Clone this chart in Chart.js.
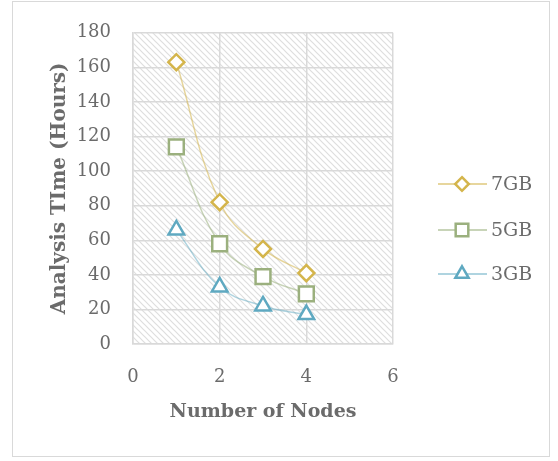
<!DOCTYPE html>
<html>
<head>
<meta charset="utf-8">
<script src="https://cdn.jsdelivr.net/npm/chart.js"></script>
<style>
  body { margin: 0; background: #fff; }
  #wrap { width: 558px; height: 461px; }
</style>
</head>
<body>
<div id="wrap"><canvas id="myChart" width="558" height="461"></canvas></div>
<script>
// data
var nodes = [1, 2, 3, 4];
var time7GB = [163, 82, 55, 41];
var time5GB = [114, 58, 39, 29];
var time3GB = [66, 33, 22, 17];
var xTicks = [0, 2, 4, 6];

var FONT = "'DejaVu Serif', serif";
var TEXT = '#6b6b6b';
var GRID = '#d9d9d9';

function toPoints(ys) {
    return nodes.map(function (x, i) { return { x: x, y: ys[i] }; });
}

// diagonal hatch for the plot area
function makeHatch(ctx) {
    var c = document.createElement('canvas');
    c.width = 6; c.height = 6;
    var p = c.getContext('2d');
    p.strokeStyle = '#dedede';
    p.lineWidth = 1.2;
    p.beginPath();
    p.moveTo(-1, -1); p.lineTo(7, 7);
    p.moveTo(-1, 5); p.lineTo(1, 7);
    p.moveTo(5, -1); p.lineTo(7, 1);
    p.stroke();
    return ctx.createPattern(c, 'repeat');
}

function marker(ctx, style, x, y, r, color, bw) {
    ctx.save();
    ctx.beginPath();
    if (style === 'rectRot') {
        ctx.moveTo(x, y - r); ctx.lineTo(x + r, y); ctx.lineTo(x, y + r); ctx.lineTo(x - r, y);
    } else if (style === 'rect') {
        var s = r * Math.SQRT1_2;
        ctx.rect(x - s, y - s, 2 * s, 2 * s);
    } else {
        ctx.moveTo(x, y - r);
        ctx.lineTo(x + r * Math.cos(Math.PI / 6), y + r * 0.5);
        ctx.lineTo(x - r * Math.cos(Math.PI / 6), y + r * 0.5);
    }
    ctx.closePath();
    ctx.fillStyle = '#fff';
    ctx.fill();
    ctx.lineWidth = bw;
    ctx.strokeStyle = color;
    ctx.stroke();
    ctx.restore();
}

var decor = {
    id: 'decor',
    beforeDraw: function (chart) {
        var ctx = chart.ctx, a = chart.chartArea;
        ctx.save();
        ctx.fillStyle = '#fff';
        ctx.fillRect(0, 0, chart.width, chart.height);
        ctx.strokeStyle = GRID;
        ctx.lineWidth = 1;
        ctx.strokeRect(12.5, 1.5, 537, 455);
        ctx.fillStyle = makeHatch(ctx);
        ctx.fillRect(a.left, a.top, a.right - a.left, a.bottom - a.top);
        ctx.restore();
    },
    afterDraw: function (chart) {
        var ctx = chart.ctx;
        var ys = [184, 230, 274];
        chart.data.datasets.forEach(function (ds, i) {
            var y = ys[i];
            ctx.save();
            ctx.strokeStyle = ds.borderColor;
            ctx.lineWidth = 2;
            ctx.beginPath();
            ctx.moveTo(438, y); ctx.lineTo(487, y);
            ctx.stroke();
            ctx.restore();
            marker(ctx, ds.pointStyle, 462, y, ds.pointRadius * 0.85, ds.pointBorderColor, 2.5);
            ctx.save();
            ctx.fillStyle = TEXT;
            ctx.font = '19px ' + FONT;
            ctx.textBaseline = 'middle';
            ctx.fillText(ds.label, 491, y + 1);
            ctx.restore();
        });
    }
};

var ctx = document.getElementById('myChart').getContext('2d');
var chart = new Chart(ctx, {
    type: 'scatter',
    data: {
        datasets: [
            {
                label: '7GB',
                data: toPoints(time7GB),
                showLine: true,
                tension: 0.4,
                borderColor: 'rgba(212, 181, 76, 0.55)',
                borderWidth: 1.5,
                pointStyle: 'rectRot',
                pointRadius: 8,
                pointBorderColor: '#d4b54c',
                pointBackgroundColor: '#fff',
                pointBorderWidth: 2.5
            },
            {
                label: '5GB',
                data: toPoints(time5GB),
                showLine: true,
                tension: 0.4,
                borderColor: 'rgba(155, 176, 126, 0.55)',
                borderWidth: 1.5,
                pointStyle: 'rect',
                pointRadius: 10.5,
                pointBorderColor: '#9bb07e',
                pointBackgroundColor: '#fff',
                pointBorderWidth: 2.5
            },
            {
                label: '3GB',
                data: toPoints(time3GB),
                showLine: true,
                tension: 0.4,
                borderColor: 'rgba(96, 170, 194, 0.5)',
                borderWidth: 1.5,
                pointStyle: 'triangle',
                pointRadius: 9,
                pointBorderColor: '#5fa9c1',
                pointBackgroundColor: '#fff',
                pointBorderWidth: 2.5
            }
        ]
    },
    options: {
        responsive: false,
        animation: false,
        layout: { padding: { left: 45, top: 30, right: 165, bottom: 30 } },
        plugins: {
            legend: { display: false },
            tooltip: { enabled: false }
        },
        scales: {
            x: {
                type: 'linear',
                min: 0, max: 6,
                afterBuildTicks: function (s) { s.ticks = xTicks.map(function (v) { return { value: v }; }); },
                afterFit: function (s) { s.height = 87; },
                grid: { color: GRID, lineWidth: 1.5, drawTicks: false },
                border: { color: GRID, width: 1.5 },
                ticks: { padding: 23, color: TEXT, font: { family: FONT, size: 18 } },
                title: {
                    display: true, text: 'Number of Nodes', color: TEXT,
                    font: { family: FONT, size: 19, weight: 'bold' },
                    padding: { top: 0, bottom: 8 }
                }
            },
            y: {
                min: 0, max: 180,
                ticks: { stepSize: 20, padding: 22, color: TEXT, font: { family: FONT, size: 18 } },
                afterFit: function (s) { s.width = 88; },
                grid: { color: GRID, lineWidth: 1.5, drawTicks: false },
                border: { color: GRID, width: 1.5 },
                title: {
                    display: true, text: 'Analysis TIme (Hours)', color: TEXT,
                    font: { family: FONT, size: 20, weight: 'bold' },
                    padding: { top: 3, bottom: 0 }
                }
            }
        }
    },
    plugins: [decor]
});
</script>
</body>
</html>
